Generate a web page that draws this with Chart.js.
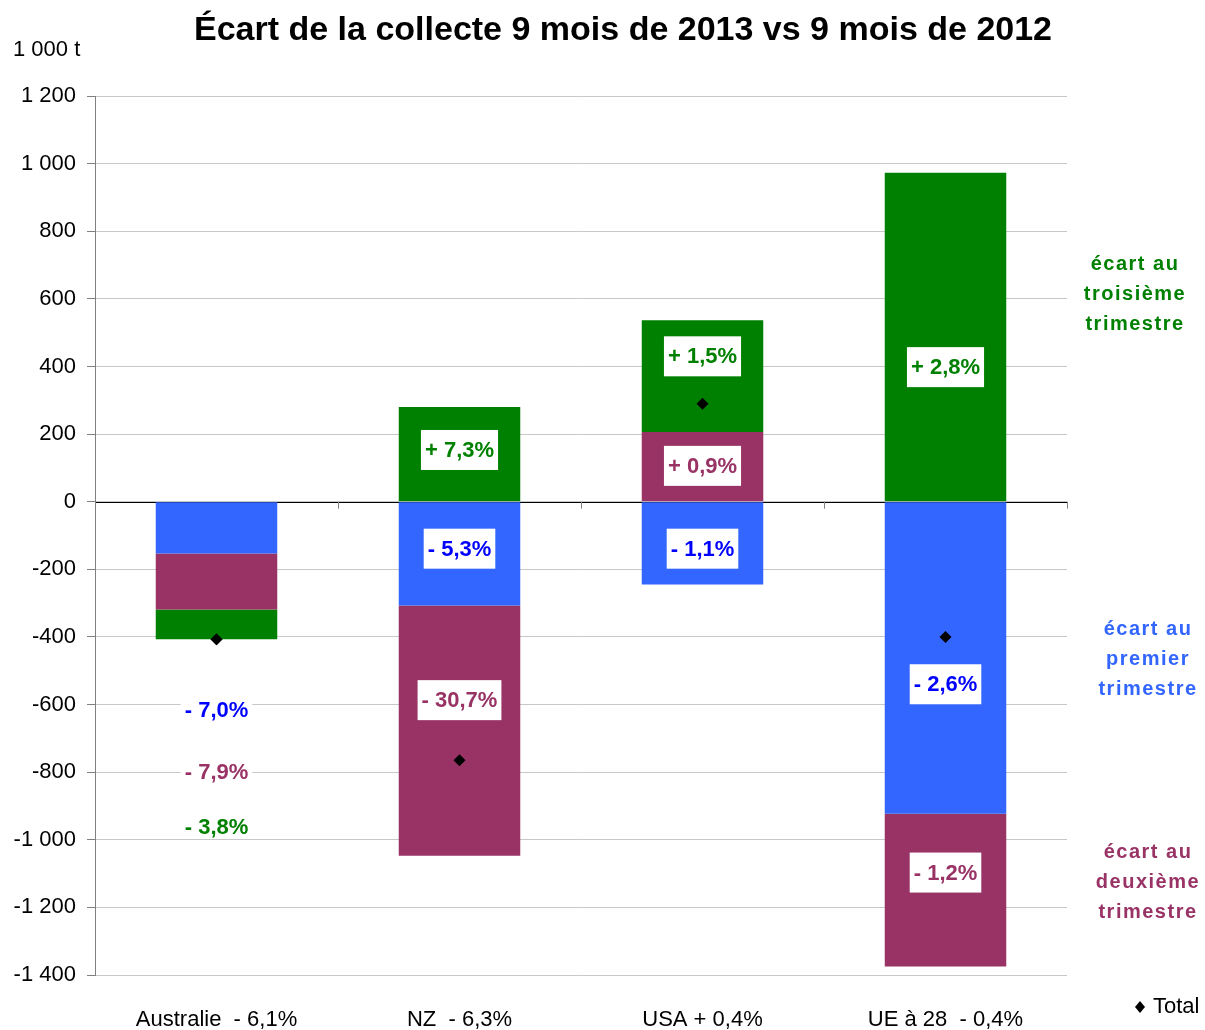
<!DOCTYPE html>
<html>
<head>
<meta charset="utf-8">
<script src="https://cdn.jsdelivr.net/npm/chart.js@4/dist/chart.umd.min.js"></script>
<style>
  html, body { margin: 0; padding: 0; background: #fff; }
  #wrap { width: 1205px; height: 1030px; position: relative; }
</style>
</head>
<body>
<div id="wrap"><canvas id="chart"></canvas></div>
<script>
// Categories and values (1 000 t)
const categories = ['Australie  - 6,1%', 'NZ  - 6,3%', 'USA + 0,4%', 'UE à 28  - 0,4%'];
const q1Values = [-153, -307, -245, -923];   // écart au premier trimestre
const q2Values = [-166, -740, 206, -452];    // écart au deuxième trimestre
const q3Values = [-88, 280, 331, 973];       // écart au troisième trimestre
const totalValues = [-407, -765, 290, -400];

// Data label texts and where they sit (value units)
const q1Labels = ['- 7,0%', '- 5,3%', '- 1,1%', '- 2,6%'];
const q2Labels = ['- 7,9%', '- 30,7%', '+ 0,9%', '- 1,2%'];
const q3Labels = ['- 3,8%', '+ 7,3%', '+ 1,5%', '+ 2,8%'];
const q1LabelAt = [-616, -139, -139, -540];
const q2LabelAt = [-799, -587, 106, -1097];
const q3LabelAt = [-961, 153, 430, 398];

const yTicks = { min: -1400, max: 1200, step: 200 };

const BLUE = '#3366FF', PURPLE = '#993366', GREEN = '#008000';
const FONT = "Arial, 'Liberation Sans', sans-serif";

function frNumber(v) {
  const s = String(Math.abs(v)).replace(/\B(?=(\d{3})+(?!\d))/g, ' ');
  return (v < 0 ? '-' : '') + s;
}

const decorations = {
  id: 'decorations',
  beforeDatasetsDraw(chart) {
    const { ctx, chartArea, scales } = chart;
    const y = scales.y;
    const y0 = y.getPixelForValue(0);
    ctx.save();
    // zero line
    ctx.strokeStyle = '#000';
    ctx.lineWidth = 1;
    ctx.beginPath();
    ctx.moveTo(chartArea.left, Math.round(y0) + 0.5);
    ctx.lineTo(chartArea.right, Math.round(y0) + 0.5);
    ctx.stroke();
    // category boundary ticks on the zero line
    ctx.strokeStyle = '#808080';
    for (let i = 0; i <= categories.length; i++) {
      const px = chartArea.left + (chartArea.right - chartArea.left) * i / categories.length;
      ctx.beginPath();
      ctx.moveTo(Math.round(px) + 0.5, y0);
      ctx.lineTo(Math.round(px) + 0.5, y0 + 7);
      ctx.stroke();
    }
    ctx.restore();
  },
  afterDatasetsDraw(chart) {
    const { ctx, scales } = chart;
    const x = scales.x, y = scales.y;
    const series = [
      { texts: q1Labels, at: q1LabelAt, color: '#0000FF' },
      { texts: q2Labels, at: q2LabelAt, color: PURPLE },
      { texts: q3Labels, at: q3LabelAt, color: GREEN }
    ];
    ctx.save();
    ctx.font = 'bold 22px ' + FONT;
    ctx.textAlign = 'center';
    ctx.textBaseline = 'middle';
    series.forEach(s => {
      s.texts.forEach((t, i) => {
        const px = x.getPixelForValue(i);
        const py = y.getPixelForValue(s.at[i]);
        const w = ctx.measureText(t).width + 8;
        const h = i === 0 ? 24 : 40;
        ctx.fillStyle = '#fff';
        ctx.fillRect(px - w / 2, py - h / 2, w, h);
        ctx.fillStyle = s.color;
        ctx.fillText(t, px, py + 1);
      });
    });

    // redraw total markers above the labels
    const meta = chart.getDatasetMeta(3);
    meta.data.forEach(pt => pt.draw(ctx));

    // title
    ctx.fillStyle = '#000';
    ctx.font = 'bold 34px ' + FONT;
    ctx.fillText('Écart de la collecte 9 mois de 2013 vs 9 mois de 2012', 623, 31);

    // unit
    ctx.font = '22px ' + FONT;
    ctx.textAlign = 'left';
    ctx.fillText('1 000 t', 13, 50);

    // side legend texts
    ctx.font = 'bold 20px ' + FONT;
    ctx.textAlign = 'center';
    const side = [
      { lines: ['écart au', 'troisième', 'trimestre'], color: GREEN, cx: 1135, top: 264 },
      { lines: ['écart au', 'premier', 'trimestre'], color: BLUE, cx: 1148, top: 629 },
      { lines: ['écart au', 'deuxième', 'trimestre'], color: PURPLE, cx: 1148, top: 852 }
    ];
    if ('letterSpacing' in ctx) ctx.letterSpacing = '1.5px';
    side.forEach(b => {
      ctx.fillStyle = b.color;
      b.lines.forEach((l, k) => ctx.fillText(l, b.cx, b.top + k * 30));
    });
    if ('letterSpacing' in ctx) ctx.letterSpacing = '0px';

    // Total legend
    ctx.fillStyle = '#000';
    const lx = 1140, ly = 1007;
    ctx.beginPath();
    ctx.moveTo(lx, ly - 6);
    ctx.lineTo(lx + 5, ly);
    ctx.lineTo(lx, ly + 6);
    ctx.lineTo(lx - 5, ly);
    ctx.closePath();
    ctx.fill();
    ctx.font = '22px ' + FONT;
    ctx.textAlign = 'left';
    ctx.fillText('Total', 1153, ly);
    ctx.restore();
  }
};

new Chart(document.getElementById('chart'), {
  data: {
    labels: categories,
    datasets: [
      { type: 'bar', label: 'écart au premier trimestre', data: q1Values, backgroundColor: BLUE, stack: 'q' },
      { type: 'bar', label: 'écart au deuxième trimestre', data: q2Values, backgroundColor: PURPLE, stack: 'q' },
      { type: 'bar', label: 'écart au troisième trimestre', data: q3Values, backgroundColor: GREEN, stack: 'q' },
      {
        type: 'line', label: 'Total', data: totalValues, stack: 'total',
        showLine: false, pointStyle: 'rectRot', pointRadius: 6,
        pointBackgroundColor: '#000', pointBorderColor: '#000', pointBorderWidth: 0
      }
    ]
  },
  options: {
    responsive: true,
    maintainAspectRatio: false,
    animation: false,
    layout: { padding: { top: 96, right: 138, left: 0, bottom: 0 } },
    datasets: { bar: { categoryPercentage: 0.5, barPercentage: 1 } },
    plugins: {
      legend: { display: false },
      title: { display: false },
      tooltip: { enabled: false }
    },
    scales: {
      x: {
        stacked: true,
        grid: { display: false, drawTicks: false },
        border: { display: false },
        ticks: { color: '#000', font: { size: 22, family: FONT }, padding: 32 },
        afterFit(scale) { scale.height = 55; }
      },
      y: {
        stacked: true,
        min: yTicks.min,
        max: yTicks.max,
        ticks: {
          stepSize: yTicks.step,
          color: '#000',
          font: { size: 22, family: FONT },
          padding: 11,
          callback: v => frNumber(v)
        },
        grid: { color: '#c8c8c8', tickColor: '#808080', tickLength: 8 },
        border: { display: true, color: '#808080' },
        afterFit(scale) { scale.width = 95; }
      }
    }
  },
  plugins: [decorations]
});
</script>
</body>
</html>
